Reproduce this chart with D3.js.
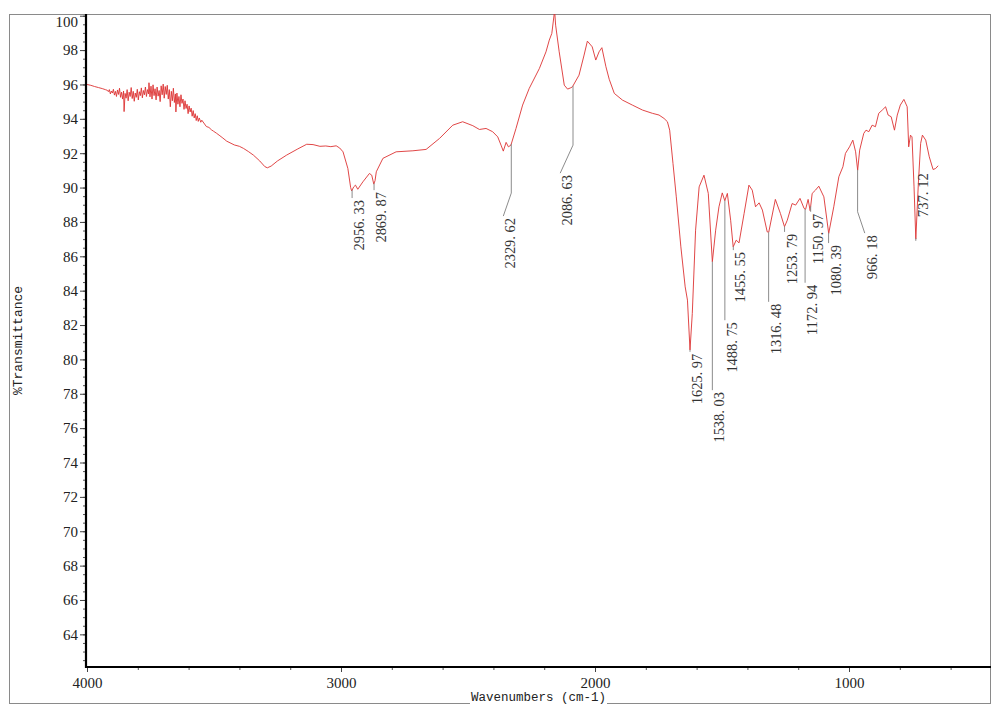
<!DOCTYPE html>
<html>
<head>
<meta charset="utf-8">
<script src="https://cdn.jsdelivr.net/npm/d3@7"></script>
<style>
  body { margin: 0; background: #fff; }
  svg { display: block; }
</style>
</head>
<body>
<div id="chart"></div>
<script>
// IR spectrum, [wavenumber cm-1, %T]
const spectrum = [
  [4000, 96.00], [3985, 95.95], [3970, 95.88], [3955, 95.82], [3940, 95.76], [3928, 95.70],
  // noisy water-vapour band
  [3920, 95.66], [3916, 95.58], [3912, 95.70], [3908, 95.45], [3904, 95.62], [3900, 95.50],
  [3896, 95.72], [3892, 95.38], [3888, 95.60], [3884, 95.30], [3880, 95.68], [3876, 95.42],
  [3872, 95.78], [3868, 95.25], [3864, 95.55], [3860, 95.15], [3856, 95.62], [3854, 94.42],
  [3850, 95.48], [3846, 95.20], [3842, 95.70], [3838, 95.05], [3834, 95.55], [3830, 95.30],
  [3826, 95.82], [3822, 95.18], [3818, 95.60], [3814, 95.02], [3810, 95.50], [3806, 95.25],
  [3802, 95.72], [3798, 95.10], [3794, 95.58], [3790, 95.35], [3786, 95.80], [3782, 95.22],
  [3778, 95.65], [3774, 95.40], [3770, 95.85], [3766, 95.30], [3762, 95.70], [3758, 95.45],
  [3756, 96.10], [3752, 95.28], [3748, 95.90], [3744, 95.15], [3740, 95.98], [3736, 95.35],
  [3732, 95.75], [3728, 95.10], [3724, 95.85], [3720, 95.32], [3716, 95.65], [3712, 95.00],
  [3708, 95.92], [3704, 95.40], [3700, 96.02], [3696, 95.20], [3692, 95.88], [3688, 95.42],
  [3684, 95.95], [3680, 95.15], [3676, 95.70], [3672, 94.70], [3668, 95.60], [3664, 95.05],
  [3660, 95.78], [3656, 94.95], [3652, 95.45], [3650, 94.40], [3646, 95.50], [3642, 94.85],
  [3638, 95.30], [3634, 94.70], [3630, 95.40], [3626, 94.90], [3622, 95.15], [3618, 94.55],
  [3614, 95.05], [3610, 94.60], [3606, 94.85], [3602, 94.30], [3598, 94.75], [3594, 94.40],
  [3590, 94.62], [3586, 94.15], [3582, 94.48], [3578, 94.05], [3574, 94.30], [3570, 93.90],
  [3566, 94.18], [3562, 93.85], [3558, 94.05], [3552, 93.80], [3548, 93.92],
  // O-H / N-H envelope
  [3530, 93.55], [3520, 93.50], [3510, 93.36], [3502, 93.28], [3490, 93.16], [3480, 93.05],
  [3465, 92.88], [3450, 92.70], [3420, 92.48], [3400, 92.40], [3384, 92.28], [3365, 92.10],
  [3345, 91.89], [3320, 91.55], [3300, 91.22], [3290, 91.15], [3275, 91.25], [3250, 91.55],
  [3214, 91.89], [3170, 92.25], [3135, 92.52], [3110, 92.50], [3083, 92.40], [3060, 92.42],
  [3040, 92.38], [3019, 92.43], [3005, 92.30], [2992, 92.08],
  [2973, 91.11], [2962, 90.00], [2958, 89.80], [2950, 90.04], [2943, 90.14], [2934, 89.90],
  [2914, 90.33], [2888, 90.82], [2879, 90.72], [2871, 90.20], [2866, 90.40], [2861, 90.92],
  [2835, 91.70], [2783, 92.08], [2717, 92.14], [2665, 92.22], [2612, 92.86], [2560, 93.63],
  [2521, 93.83], [2481, 93.60], [2455, 93.38], [2429, 93.44], [2403, 93.25], [2383, 92.95],
  [2370, 92.47], [2361, 92.12], [2350, 92.63], [2341, 92.37], [2331, 92.47], [2311, 93.44],
  [2285, 94.80], [2259, 95.77], [2219, 96.93], [2193, 97.90], [2180, 98.58], [2170, 98.97],
  [2159, 100.3], [2155, 99.45], [2141, 97.90], [2121, 95.96], [2108, 95.73], [2095, 95.81],
  [2089, 95.86], [2063, 96.54], [2043, 97.71], [2030, 98.52], [2020, 98.35], [2011, 98.19],
  [1997, 97.42], [1984, 97.90], [1973, 98.14], [1957, 97.03], [1944, 96.30], [1924, 95.48],
  [1892, 95.09], [1853, 94.80], [1813, 94.51], [1774, 94.32], [1748, 94.22], [1728, 94.02],
  [1715, 93.83], [1706, 93.34], [1693, 91.40], [1680, 89.46], [1662, 86.55], [1645, 84.22],
  [1636, 83.45], [1626, 80.55], [1617, 82.67], [1604, 87.52], [1590, 90.04], [1571, 90.72],
  [1554, 89.66], [1538, 85.68], [1525, 87.52], [1512, 88.88], [1499, 89.69], [1489, 89.23],
  [1479, 89.66], [1466, 88.10], [1456, 86.55], [1444, 86.94], [1433, 86.78], [1413, 88.49],
  [1394, 90.14], [1381, 89.85], [1368, 88.88], [1354, 89.11], [1341, 88.69], [1322, 87.42],
  [1316, 87.40], [1290, 89.31], [1270, 88.49], [1254, 87.72], [1243, 88.10], [1224, 89.07],
  [1210, 88.98], [1193, 89.37], [1177, 88.79], [1171, 88.73], [1161, 89.31], [1153, 88.65],
  [1145, 89.66], [1132, 89.85], [1119, 90.08], [1099, 89.46], [1080, 87.33], [1060, 88.88],
  [1040, 90.63], [1024, 91.21], [1014, 91.99], [998, 92.37], [985, 92.76], [974, 92.08],
  [966, 91.01], [958, 92.18], [942, 93.15], [933, 93.34], [922, 93.25], [909, 93.63],
  [896, 93.54], [883, 94.32], [869, 94.51], [856, 94.70], [846, 94.22], [834, 94.12],
  [821, 93.34], [810, 94.22], [798, 94.80], [784, 95.13], [771, 94.70], [765, 92.37],
  [758, 93.05], [752, 92.95], [744, 90.04], [737, 87.00], [727, 90.24], [718, 92.57],
  [711, 93.05], [698, 92.76], [684, 91.79], [669, 91.05], [659, 91.11], [649, 91.27]
];

// peak picks
const peakWn    = [2956.33, 2869.87, 2329.62, 2086.63, 1625.97, 1538.03, 1488.75, 1455.55,
                   1316.48, 1253.79, 1172.94, 1150.97, 1080.39, 966.18, 737.12];
const peakText  = ["2956. 33", "2869. 87", "2329. 62", "2086. 63", "1625. 97", "1538. 03",
                   "1488. 75", "1455. 55", "1316. 48", "1253. 79", "1172. 94", "1150. 97",
                   "1080. 39", "966. 18", "737. 12"];
// %T where the vertical leader stops
const leaderEndT = [89.39, 89.85, 89.68, 92.47, 80.44, 78.21, 82.28, 86.36,
                    83.35, 87.42, 84.46, 88.59, 86.77, 88.59, 86.90];
// bent leaders: [wavenumber, %T] of the end of the slanted piece
const slantEnd = [null, null, [2361, 88.34], [2137, 90.84], null, null, null, null,
                  null, null, null, null, null, [938, 87.35], null];
// label top when it is not hung under the leader
const labelTopT = [null, null, null, null, null, null, null, null,
                   null, null, null, null, null, null, 90.84];

const yMajor = d3.range(64, 100.1, 2);
const yMinor = d3.range(62.5, 100.1, 0.5);
const xMajor = [4000, 3000, 2000, 1000];
const xMinor = d3.range(4000, 440, -200);

const W = 992, H = 705;
const plotL = 86, plotR = 991, plotT = 14, plotB = 667;

const svg = d3.select('#chart').append('svg')
  .attr('width', W)
  .attr('height', H);

const x = d3.scaleLinear().domain([4000, 441]).range([plotL + 1, plotR]);
const y = d3.scaleLinear().domain([62.1, 100.1]).range([plotB, plotT]);

// outer frame
svg.append('rect')
  .attr('x', 9.5).attr('y', 14.5)
  .attr('width', 981).attr('height', 689)
  .attr('fill', 'none')
  .attr('stroke', '#8a8a8a');

// y axis ticks
const tickFont = '"Liberation Serif", "DejaVu Serif", serif';
svg.append('g')
  .attr('transform', `translate(${plotL},0)`)
  .call(d3.axisLeft(y).tickValues(yMinor).tickSize(3).tickFormat(''))
  .call(g => g.select('.domain').remove())
  .call(g => g.selectAll('line').attr('stroke', '#555'));
const yAx = svg.append('g')
  .attr('transform', `translate(${plotL},0)`)
  .call(d3.axisLeft(y).tickValues(yMajor).tickSize(6).tickPadding(2))
  .call(g => g.select('.domain').remove());
yAx.selectAll('line').attr('stroke', '#444');
yAx.selectAll('text')
  .attr('font-family', tickFont)
  .attr('font-size', 15)
  .attr('fill', '#222')
  .attr('y', d => Math.max(0, plotT + 8 - y(d)));   // keep top label inside the frame

// x axis ticks
svg.append('g')
  .attr('transform', `translate(0,${plotB})`)
  .call(d3.axisBottom(x).tickValues(xMinor).tickSize(3).tickFormat(''))
  .call(g => g.select('.domain').remove())
  .call(g => g.selectAll('line').attr('stroke', '#555'));
const xAx = svg.append('g')
  .attr('transform', `translate(0,${plotB})`)
  .call(d3.axisBottom(x).tickValues(xMajor).tickSize(5).tickPadding(5).tickFormat(d3.format('d')))
  .call(g => g.select('.domain').remove());
xAx.selectAll('line').attr('stroke', '#444');
xAx.selectAll('text')
  .attr('font-family', tickFont)
  .attr('font-size', 15)
  .attr('fill', '#222');

// heavy axis lines
svg.append('line')
  .attr('x1', plotL).attr('x2', plotL)
  .attr('y1', plotT).attr('y2', plotB + 1)
  .attr('stroke', '#000').attr('stroke-width', 2.2);
svg.append('line')
  .attr('x1', plotL - 1).attr('x2', plotR)
  .attr('y1', plotB).attr('y2', plotB)
  .attr('stroke', '#000').attr('stroke-width', 2.2);

// axis titles
const titleFont = '"Liberation Mono", "DejaVu Sans Mono", monospace';
const xTitle = svg.append('text')
  .attr('x', (plotL + plotR) / 2)
  .attr('y', 701)
  .attr('text-anchor', 'middle')
  .attr('font-family', titleFont)
  .attr('font-size', 12.5)
  .attr('fill', '#222')
  .text('Wavenumbers (cm-1)');
const bb = xTitle.node().getBBox();
svg.insert('rect', () => xTitle.node())
  .attr('x', bb.x - 1).attr('y', bb.y)
  .attr('width', bb.width + 2).attr('height', bb.height + 4)
  .attr('fill', '#fff');

svg.append('text')
  .attr('transform', `translate(22,${(plotT + plotB) / 2}) rotate(-90)`)
  .attr('text-anchor', 'middle')
  .attr('font-family', titleFont)
  .attr('font-size', 13)
  .attr('fill', '#222')
  .text('%Transmittance');

// spectrum
svg.append('clipPath').attr('id', 'plotClip')
  .append('rect')
  .attr('x', plotL).attr('y', plotT)
  .attr('width', plotR - plotL).attr('height', plotB - plotT);

const line = d3.line()
  .x(d => x(d[0]))
  .y(d => y(d[1]));

svg.append('path')
  .datum(spectrum)
  .attr('clip-path', 'url(#plotClip)')
  .attr('fill', 'none')
  .attr('stroke', '#dc3232')
  .attr('stroke-width', 0.9)
  .attr('stroke-linejoin', 'round')
  .attr('d', line);

// %T of the curve at a wavenumber
const bis = d3.bisector(d => -d[0]).left;
const tAt = wn => {
  const i = Math.max(1, Math.min(spectrum.length - 1, bis(spectrum, -wn)));
  const a = spectrum[i - 1], b = spectrum[i];
  const f = (a[0] - wn) / (a[0] - b[0]);
  return a[1] + f * (b[1] - a[1]);
};

// peak labels
const peaks = peakWn.map((wn, i) => ({
  wn, text: peakText[i], endT: leaderEndT[i], slant: slantEnd[i], topT: labelTopT[i]
}));

const pg = svg.append('g').attr('class', 'peaks');
peaks.forEach(p => {
  const px = x(p.wn);
  const pts = [[px, y(tAt(p.wn))], [px, y(p.endT)]];
  if (p.slant) pts.push([x(p.slant[0]), y(p.slant[1])]);
  pg.append('path')
    .attr('d', d3.line()(pts))
    .attr('fill', 'none')
    .attr('stroke', '#8c8c8c')
    .attr('stroke-width', 1);
  const last = pts[pts.length - 1];
  const ty = p.topT != null ? y(p.topT) : last[1] + 2;
  pg.append('text')
    .attr('transform', `translate(${last[0] + 7},${ty}) rotate(-90)`)
    .attr('text-anchor', 'end')
    .attr('dominant-baseline', 'central')
    .attr('font-family', tickFont)
    .attr('font-size', 15)
    .attr('textLength', p.text.length * 6.3)
    .attr('lengthAdjust', 'spacingAndGlyphs')
    .attr('fill', '#333')
    .text(p.text);
});
</script>
</body>
</html>
